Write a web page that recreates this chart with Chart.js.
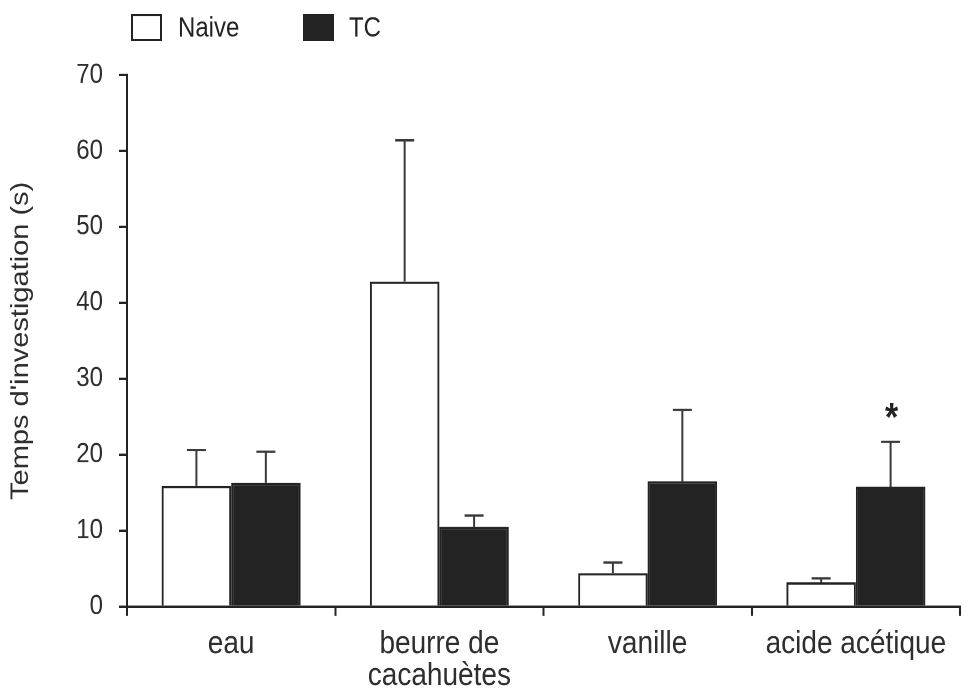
<!DOCTYPE html>
<html><head><meta charset="utf-8">
<script src="https://cdn.jsdelivr.net/npm/chart.js@4"></script>
<style>
html,body{margin:0;padding:0;background:#fff;width:972px;height:689px;overflow:hidden}
#outer{position:relative;width:972px;height:689px;overflow:hidden}
#wrap{position:absolute;left:0;top:0;width:972px;height:594px;transform:scaleY(1.16);transform-origin:0 0}
</style></head><body>
<div id="outer"><div id="wrap"><canvas id="c" width="972" height="594"></canvas></div></div>
<script>
const categories = ['eau', ['beurre de', 'cacahuètes'], 'vanille', 'acide acétique'];
const seriesNames = ['Naive', 'TC'];
const naiveValues = [15.9, 42.8, 4.4, 3.2];
const naiveErrors = [4.7, 18.6, 1.4, 0.5];
const tcValues = [16.3, 10.5, 16.5, 15.8];
const tcErrors = [4.1, 1.5, 9.4, 5.9];
const tcSignificance = ['', '', '', '*'];
const yTickValues = [0, 10, 20, 30, 40, 50, 60, 70];
const yTitle = "Temps d'investigation (s)";

const FONT = "'Liberation Sans', Arial, sans-serif";
const INK = '#232323';
const errorsByDataset = [naiveErrors, tcErrors];
const signifByDataset = [null, tcSignificance];

const errorBarPlugin = {
  id: 'errorBars',
  afterDatasetsDraw(chart) {
    const ctx = chart.ctx;
    const ys = chart.scales.y;
    ctx.save();
    ctx.strokeStyle = '#3a3a3a';
    ctx.lineWidth = 2;
    chart.data.datasets.forEach((ds, i) => {
      const meta = chart.getDatasetMeta(i);
      const errs = errorsByDataset[i];
      const sig = signifByDataset[i];
      meta.data.forEach((bar, j) => {
        const v = ds.data[j];
        const top = ys.getPixelForValue(v + errs[j]);
        ctx.beginPath();
        ctx.moveTo(bar.x, bar.y);
        ctx.lineTo(bar.x, top);
        ctx.moveTo(bar.x - 9.5, top);
        ctx.lineTo(bar.x + 9.5, top);
        ctx.stroke();
        if (sig && sig[j]) {
          ctx.fillStyle = INK;
          ctx.font = 'bold 34px ' + FONT;
          ctx.textAlign = 'center';
          ctx.textBaseline = 'alphabetic';
          ctx.fillText(sig[j], bar.x + 1, top - 10);
        }
      });
    });
    ctx.restore();
  }
};

const legendPlugin = {
  id: 'customLegend',
  afterDraw(chart) {
    const ctx = chart.ctx;
    ctx.save();
    const items = [
      {x: 132, textX: 178},
      {x: 304, textX: 349}
    ];
    items.forEach((it, i) => {
      const ds = chart.data.datasets[i];
      ctx.fillStyle = ds.backgroundColor;
      ctx.strokeStyle = INK;
      ctx.lineWidth = 2;
      ctx.fillRect(it.x, 13, 29, 21.5);
      ctx.strokeRect(it.x, 13, 29, 21.5);
      ctx.fillStyle = INK;
      ctx.font = '24px ' + FONT;
      ctx.textAlign = 'left';
      ctx.textBaseline = 'middle';
      ctx.fillText(ds.label, it.textX, 25);
    });
    ctx.restore();
  }
};

new Chart(document.getElementById('c'), {
  type: 'bar',
  data: {
    labels: categories,
    datasets: [
      {label: seriesNames[0], data: naiveValues, backgroundColor: '#ffffff', borderColor: INK, borderWidth: 2},
      {label: seriesNames[1], data: tcValues, backgroundColor: INK, borderColor: INK, borderWidth: 2}
    ]
  },
  options: {
    responsive: false,
    animation: false,
    devicePixelRatio: 2,
    categoryPercentage: 0.667,
    barPercentage: 1.0,
    layout: {padding: {top: 64.7, right: 12, bottom: 0, left: 0}},
    plugins: {legend: {display: false}, tooltip: {enabled: false}},
    scales: {
      x: {
        afterFit(s) { s.height = 71.1; },
        border: {color: INK, width: 2},
        grid: {offset: true, drawOnChartArea: false, tickLength: 8, color: INK, lineWidth: 2},
        ticks: {autoSkip: false, maxRotation: 0, padding: 11, color: '#2e2e2e',
                font: {family: FONT, size: 28, lineHeight: 0.97}}
      },
      y: {
        min: 0, max: 70,
        afterFit(s) { s.width = 127; },
        afterBuildTicks(s) { s.ticks = yTickValues.map(v => ({value: v})); },
        border: {color: INK, width: 2},
        grid: {drawOnChartArea: false, tickLength: 8, color: INK, lineWidth: 2},
        ticks: {padding: 16, color: '#2e2e2e', font: {family: FONT, size: 24}},
        title: {display: true, text: yTitle, color: '#2e2e2e', padding: 6,
                font: {family: FONT, size: 25, lineHeight: 1.2}}
      }
    }
  },
  plugins: [errorBarPlugin, legendPlugin]
});
</script>
</body></html>
